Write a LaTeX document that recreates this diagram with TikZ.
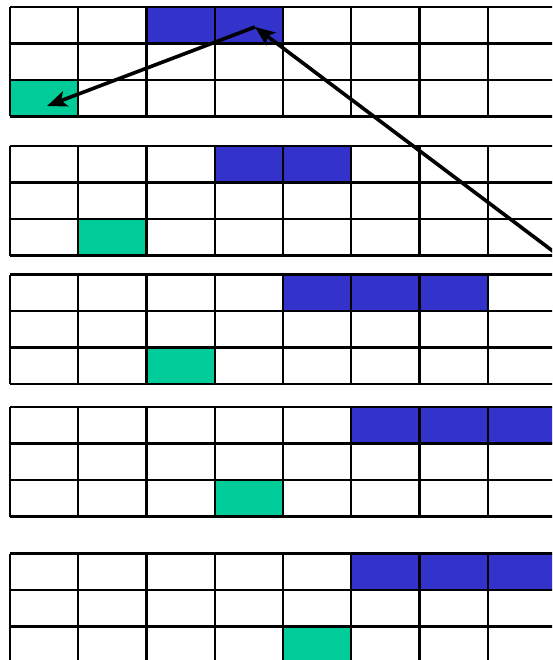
\documentclass[tikz,border=0pt]{standalone}
\usetikzlibrary{arrows.meta}
\definecolor{cellblue}{HTML}{3333CC}
\definecolor{cellgreen}{HTML}{00CC99}
\tikzset{
  gridline/.style={draw=black,line width=2.2pt},
  bluecell/.style={fill=cellblue},
  greencell/.style={fill=cellgreen},
  arrowline/.style={draw=black,line width=3.6pt,-{Stealth[length=20pt,width=16pt,inset=5pt]}}
}
\begin{document}
\begin{tikzpicture}[x=1pt,y=-1pt]
\useasboundingbox (0,0) rectangle (552,660);
\fill[white] (0,0) rectangle (552,660);
\begin{scope}
\clip (0,0) rectangle (552,660);
% block tops and coloured cells: {top/bluefrom/blueto/greencol}
\foreach \t/\bf/\bt/\g in {7/2/3/0, 146/3/4/1, 274.5/4/6/2, 407/5/7/3, 553.5/5/7/4}{
  \foreach \c in {\bf,...,\bt}{
    \fill[bluecell] ({10+68.25*\c},\t) rectangle ({10+68.25*(\c+1)},{\t+36.5});
  }
  \fill[greencell] ({10+68.25*\g},{\t+73}) rectangle ({10+68.25*(\g+1)},{\t+109.5});
  \foreach \r in {0,1,2,3}{
    \draw[gridline] (10,{\t+36.5*\r}) -- (570,{\t+36.5*\r});
  }
  \foreach \c in {0,...,8}{
    \draw[gridline] ({10+68.25*\c},\t) -- ({10+68.25*\c},{\t+109.5});
  }
}
\coordinate (top) at (255,27);
\coordinate (green1) at (47,106);
\coordinate (offright) at (570,264);
\draw[arrowline] (top) -- (green1);
\draw[arrowline] (offright) -- (top);
\end{scope}
\end{tikzpicture}
\end{document}
